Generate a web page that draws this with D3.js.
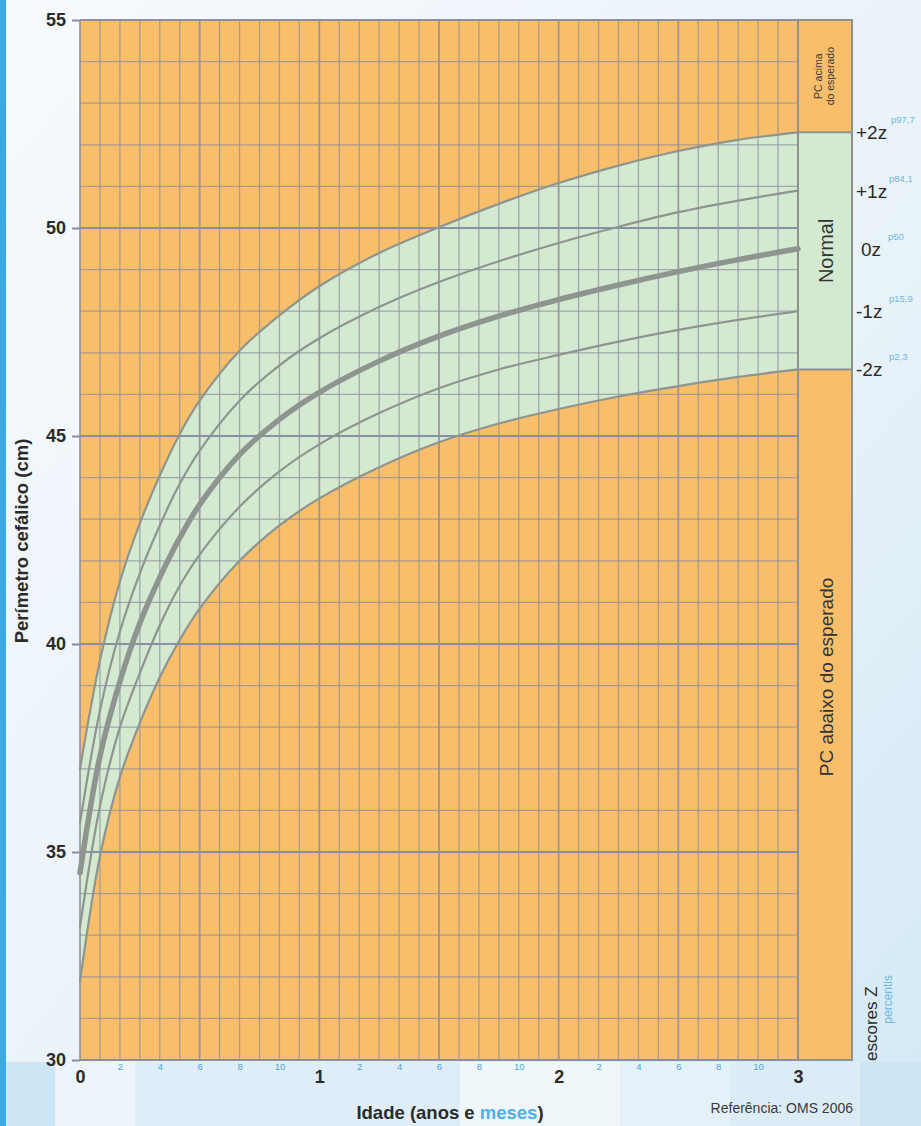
<!DOCTYPE html>
<html><head><meta charset="utf-8">
<script src="https://cdn.jsdelivr.net/npm/d3@7"></script>
<style>
html,body{margin:0;padding:0;}
svg{display:block;font-family:"Liberation Sans",Arial,sans-serif;}
</style></head>
<body>
<svg id="c" width="921" height="1126"></svg>
<script>
// ---- data (WHO 2006, head circumference, boys 0-36 months; values read at selected ages) ----
const months  = [0,1,2,3,4,5,6,8,10,12,15,18,21,24,27,30,33,36];
const zMinus2 = [31.9,34.9,36.8,38.1,39.2,40.1,40.85,42.0,42.85,43.5,44.25,44.85,45.3,45.65,45.95,46.2,46.42,46.6];
const zMinus1 = [33.2,36.1,38.0,39.3,40.45,41.4,42.15,43.3,44.15,44.8,45.55,46.15,46.6,46.95,47.27,47.55,47.79,48.0];
const zMedian = [34.5,37.3,39.1,40.5,41.6,42.55,43.35,44.55,45.4,46.05,46.8,47.4,47.88,48.28,48.63,48.95,49.24,49.5];
const zPlus1  = [35.7,38.4,40.3,41.7,42.85,43.85,44.65,45.85,46.7,47.35,48.1,48.7,49.2,49.64,50.03,50.38,50.66,50.9];
const zPlus2  = [37.0,39.6,41.5,42.9,44.05,45.05,45.85,47.05,47.9,48.6,49.4,50.02,50.58,51.08,51.5,51.85,52.12,52.3];
const yTicks = [30,35,40,45,50,55];
const yearTicks = [0,12,24,36];
const yearLabels = ["0","1","2","3"];
const monthTicks = [2,4,6,8,10,14,16,18,20,22,26,28,30,32,34];
const monthLabels = ["2","4","6","8","10","2","4","6","8","10","2","4","6","8","10"];
const zLabels = ["+2z","+1z","0z","-1z","-2z"];
const pLabels = ["p97,7","p84,1","p50","p15,9","p2,3"];

// ---- layout ----
const svg = d3.select("#c");
const W = 921, H = 1126;
const x = d3.scaleLinear([0,36],[80,798]);
const y = d3.scaleLinear([30,55],[1060,20]);
const colR = 852;
const ORANGE = "#f9be69", GREEN = "#d4ead0", GRID = "#8f909e", CURVE = "#8e9591";
const CURVE_TYPE = d3.curveCatmullRom.alpha(0.5);
const last = months.length - 1;

// background
const defs = svg.append("defs");
const g1 = defs.append("linearGradient").attr("id","bg").attr("x1","0").attr("y1","0").attr("x2","1").attr("y2","1");
g1.append("stop").attr("offset","0").attr("stop-color","#f7fafd");
g1.append("stop").attr("offset","0.6").attr("stop-color","#e8f2f9");
g1.append("stop").attr("offset","1").attr("stop-color","#d3e9f6");
svg.append("rect").attr("width",W).attr("height",H).attr("fill","url(#bg)");
const bandBlocks = [[0,55,"#cde6f5"],[55,135,"#edf5fb"],[135,460,"#deedf7"],[460,620,"#f0f7fb"],[620,730,"#e5f1f9"],[730,860,"#dbecf7"],[860,921,"#cbe5f4"]];
svg.selectAll("rect.bb").data(bandBlocks).join("rect").attr("class","bb")
  .attr("x",d=>d[0]).attr("y",1062).attr("width",d=>d[1]-d[0]).attr("height",H-1062).attr("fill",d=>d[2]);
svg.append("rect").attr("x",0).attr("y",0).attr("width",6).attr("height",H).attr("fill","#3ea9e0");

// plot backgrounds
svg.append("rect").attr("x",x(0)).attr("y",y(55)).attr("width",colR-x(0)).attr("height",y(30)-y(55)).attr("fill",ORANGE);
const area = d3.area().x((d,i)=>x(months[i])).y0((d,i)=>y(zMinus2[i])).y1((d,i)=>y(zPlus2[i])).curve(CURVE_TYPE);
svg.append("path").datum(months).attr("d",area).attr("fill",GREEN);
svg.append("rect").attr("x",x(36)).attr("y",y(zPlus2[last])).attr("width",colR-x(36)).attr("height",y(zMinus2[last])-y(zPlus2[last])).attr("fill",GREEN);

// grid
const hLines = d3.range(30,56);
svg.selectAll("line.h").data(hLines).join("line").attr("class","h")
  .attr("x1",x(0)).attr("x2",x(36)).attr("y1",d=>y(d)).attr("y2",d=>y(d))
  .attr("stroke",d=>d%5===0?"#858aa2":GRID).attr("stroke-width",d=>d%5===0?2.2:1.3).attr("stroke-opacity",d=>d%5===0?0.95:0.75);
const vLines = d3.range(0,37);
svg.selectAll("line.v").data(vLines).join("line").attr("class","v")
  .attr("x1",d=>x(d)).attr("x2",d=>x(d)).attr("y1",y(55)).attr("y2",y(30))
  .attr("stroke",GRID).attr("stroke-width",d=>d%6===0?1.8:1.3).attr("stroke-opacity",d=>d%6===0?0.9:0.75);

// column frame
const frame = svg.append("g").attr("stroke","#8f918f").attr("stroke-width",2).attr("fill","none");
frame.append("rect").attr("x",x(36)).attr("y",y(55)).attr("width",colR-x(36)).attr("height",y(30)-y(55));
frame.append("line").attr("x1",x(36)).attr("x2",colR).attr("y1",y(zPlus2[last])).attr("y2",y(zPlus2[last]));
frame.append("line").attr("x1",x(36)).attr("x2",colR).attr("y1",y(zMinus2[last])).attr("y2",y(zMinus2[last]));

// curves
const series = [zPlus2,zPlus1,zMedian,zMinus1,zMinus2];
const line = d3.line().x((d,i)=>x(months[i])).y(d=>y(d)).curve(CURVE_TYPE);
svg.selectAll("path.z").data(series).join("path").attr("class","z")
  .attr("d",line).attr("fill","none").attr("stroke",CURVE)
  .attr("stroke-width",(d,i)=>i===2?5.5:2.2).attr("stroke-linecap","round");

// y axis
const yAxis = svg.append("g").attr("transform",`translate(${x(0)},0)`)
  .call(d3.axisLeft(y).tickValues(yTicks).tickSize(8).tickPadding(6).tickFormat(d3.format("d")));
yAxis.select(".domain").remove();
yAxis.selectAll(".tick line").attr("stroke","#8a8d9e").attr("stroke-width",2);
yAxis.selectAll(".tick text").attr("font-family","Liberation Sans, Arial, sans-serif").attr("font-size",18).attr("font-weight","bold").attr("fill","#2b2b2b");

// x axis years
const xYears = svg.append("g").attr("transform",`translate(0,${y(30)})`)
  .call(d3.axisBottom(x).tickValues(yearTicks).tickSize(0).tickPadding(10).tickFormat((d,i)=>yearLabels[i]));
xYears.select(".domain").remove();
xYears.selectAll(".tick text").attr("font-family","Liberation Sans, Arial, sans-serif").attr("font-size",18).attr("font-weight","bold").attr("fill","#2b2b2b");
// x axis months
const xMonths = svg.append("g").attr("transform",`translate(0,${y(30)})`)
  .call(d3.axisBottom(x).tickValues(monthTicks).tickSize(0).tickPadding(3).tickFormat((d,i)=>monthLabels[i]));
xMonths.select(".domain").remove();
xMonths.selectAll(".tick text").attr("font-family","Liberation Sans, Arial, sans-serif").attr("font-size",9.5).attr("fill","#4aa6db");

// axis titles
svg.append("text").attr("transform","translate(28,541) rotate(-90)").attr("text-anchor","middle")
  .attr("font-size",18.5).attr("font-weight","bold").attr("fill","#2b2b2b").text("Perímetro cefálico (cm)");
const xt = svg.append("text").attr("x",450).attr("y",1119).attr("text-anchor","middle")
  .attr("font-size",18.5).attr("font-weight","bold").attr("fill","#2b2b2b");
xt.append("tspan").text("Idade (anos e ");
xt.append("tspan").attr("fill","#4db0e6").text("meses");
xt.append("tspan").text(")");
svg.append("text").attr("x",853).attr("y",1113).attr("text-anchor","end").attr("font-size",14).attr("fill","#3b3b3b").text("Referência: OMS 2006");

// column labels
const acima = svg.append("text").attr("transform",`translate(822,${(y(55)+y(zPlus2[last]))/2}) rotate(-90)`)
  .attr("text-anchor","middle").attr("font-size",10.5).attr("fill","#3a3a3a");
acima.append("tspan").attr("x",0).attr("dy",0).text("PC acima");
acima.append("tspan").attr("x",0).attr("dy","1.15em").text("do esperado");
svg.append("text").attr("transform",`translate(833,${(y(zPlus2[last])+y(zMinus2[last]))/2}) rotate(-90)`)
  .attr("text-anchor","middle").attr("font-size",20).attr("fill","#333").text("Normal");
svg.append("text").attr("transform",`translate(833,677) rotate(-90)`)
  .attr("text-anchor","middle").attr("font-size",19).attr("fill","#333").text("PC abaixo do esperado");

// z / percentile labels
const lastVals = series.map(s=>s[last]);
const zg = svg.selectAll("g.zl").data(lastVals).join("g").attr("class","zl")
  .attr("transform",d=>`translate(856,${y(d)})`);
zg.append("text").attr("x",(d,i)=>i===2?5:0).attr("y",7).attr("font-size",19).attr("fill","#2b2b2b").text((d,i)=>zLabels[i]);
zg.append("text").attr("x",(d,i)=>i===2?32:(i===0?35:33)).attr("y",-9).attr("font-size",9.5).attr("fill","#6fb8e2").text((d,i)=>pLabels[i]);

svg.append("text").attr("transform","translate(877,1061) rotate(-90)").attr("text-anchor","start")
  .attr("font-size",17).attr("fill","#2b2b2b").text("escores Z");
svg.append("text").attr("transform","translate(892,975) rotate(-90)").attr("text-anchor","end")
  .attr("font-size",12).attr("fill","#6fb8e2").text("percentis");
</script>
</body></html>
